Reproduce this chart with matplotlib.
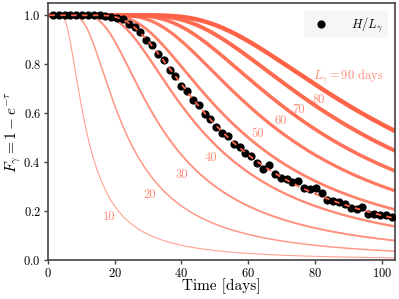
import numpy as np
import matplotlib
matplotlib.use("Agg")
import matplotlib.pyplot as plt

plt.rcParams['font.family'] = 'serif'
plt.rcParams['font.serif'] = ['cmr10']
plt.rcParams['mathtext.fontset'] = 'cm'
plt.rcParams['axes.formatter.use_mathtext'] = True

# gamma-ray trapping timescales (days)
L_gamma = [10, 20, 30, 40, 50, 60, 70, 80, 90]
label_t = [18.5, 30.4, 40.2, 48.9, 62.8, 69.8, 75.2, 81.2, 90.1]
label_f = [0.177, 0.265, 0.347, 0.416, 0.517, 0.569, 0.615, 0.656, 0.751]

# measured H / L_gamma
obs_t = [1.5, 3.2, 5.0, 6.7, 8.5, 10.2, 12.0, 13.7, 15.5, 17.2, 19.0, 20.7,
         22.5, 24.2, 26.0, 27.7, 29.5, 31.2, 33.0, 34.7, 36.5, 38.2, 40.0,
         41.7, 43.5, 45.2, 47.0, 48.7, 50.5, 52.2, 54.0, 55.7, 57.5, 59.2,
         61.0, 62.7, 64.5, 66.2, 68.0, 69.7, 71.5, 73.2, 75.0, 76.7, 78.5,
         80.2, 82.0, 83.7, 85.5, 87.2, 89.0, 90.7, 92.5, 94.2, 96.0, 97.7,
         99.5, 101.2, 103.0]
obs_f = [1.0, 1.0, 1.0, 1.0, 1.0, 1.0, 1.0, 0.999, 0.999, 0.998, 0.994, 0.990,
         0.983, 0.966, 0.952, 0.930, 0.898, 0.878, 0.840, 0.818, 0.776, 0.752,
         0.712, 0.690, 0.655, 0.632, 0.596, 0.578, 0.545, 0.520, 0.505, 0.476,
         0.462, 0.436, 0.425, 0.398, 0.372, 0.388, 0.352, 0.336, 0.330, 0.318,
         0.322, 0.296, 0.292, 0.295, 0.276, 0.245, 0.240, 0.238, 0.230, 0.214,
         0.208, 0.218, 0.190, 0.188, 0.184, 0.186, 0.178]
L_fit = 45

t = np.linspace(0.5, 104, 400)

my_dpi = 100
fig = plt.figure(figsize=(399/my_dpi, 299/my_dpi), dpi=my_dpi)
ax = fig.add_axes([0.12, 0.13, 0.87, 0.86])

widths = np.linspace(0.8, 3.2, len(L_gamma))
alphas = np.linspace(0.6, 1.0, len(L_gamma))
for i, L in enumerate(L_gamma):
    ax.plot(t, 1 - np.exp(-(L / t)**2), color='tomato', lw=widths[i],
            alpha=alphas[i], zorder=2)
    txt = r'$L_\gamma = 90$ days' if L == 90 else str(L)
    ax.text(label_t[i], label_f[i], txt, color='tomato', alpha=0.75,
            fontsize=9, ha='center', va='center')

ax.scatter(obs_t, obs_f, s=24, color='black', zorder=3, label=r'$H/L_\gamma$')
ax.plot(t, 1 - np.exp(-(L_fit / t)**2), color='tomato', lw=1.3, ls='--',
        dashes=(3, 3), zorder=4)

ax.set_xlim(0, 104)
ax.set_ylim(0, 1.05)
ax.set_xlabel('Time [days]', fontsize=11, labelpad=-1)
ax.set_ylabel(r'$F_\gamma = 1 - e^{-\tau}$', fontsize=11, labelpad=0)
ax.tick_params(labelsize=9, color='#444444', width=1, length=3, pad=2)
for s in ax.spines.values():
    s.set_color('#444444')
    s.set_linewidth(1.2)

leg = ax.legend(loc='upper right', fontsize=9, frameon=True, borderpad=0.35,
                handletextpad=1.4, borderaxespad=0.6)
leg.get_frame().set_facecolor('#f4f4f4')
leg.get_frame().set_edgecolor('none')

plt.savefig('out.png', dpi=my_dpi)
